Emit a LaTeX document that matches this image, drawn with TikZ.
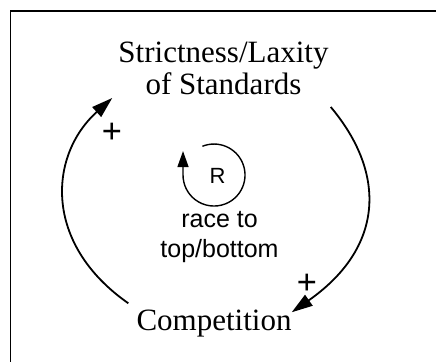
\documentclass[tikz,border=0pt]{standalone}
\usepackage{fontspec}
\setmainfont{Liberation Serif}
\newfontfamily\helv{Liberation Sans}
\usetikzlibrary{arrows.meta, positioning}

\begin{document}
\begin{tikzpicture}[x=1pt, y=1pt,
            magnitud/.style={inner sep=0pt, align=center, font=\fontsize{31}{32}\selectfont},
            signo/.style={inner sep=0pt, font=\bfseries\fontsize{36}{36}\selectfont},
            rotulo/.style={inner sep=0pt, align=center, font=\helv\fontsize{25}{30}\selectfont},
            enlace/.style={-{Triangle[length=21pt,width=13pt]}, line width=1.8pt},
            bucle/.style={-{Triangle[length=16pt,width=11pt]}, line width=1.4pt}]

            \useasboundingbox (0,0) rectangle (436,362);
            \draw[line width=1.8pt] (436,351) -- (10.5,351) -- (10.5,0);

            \node[magnitud, anchor=south] (std) at (223.5,267) {Strictness/Laxity\\of Standards};
            \node[magnitud, anchor=base] (comp) at (214,32) {Competition};
            \node[signo] (mas1) at (112,229) {+};
            \node[signo] (mas2) at (307,78) {+};
            \node[inner sep=0pt, font=\helv\fontsize{22}{22}\selectfont] (r) at (217.5,186) {R};
            \node[rotulo] (lazo) at (219.5,125) {race to\\top/bottom};

            \draw[enlace] ([xshift=2pt,yshift=-12pt]std.south east) to[out=-50, in=35, out distance=88pt, in distance=112pt] ([yshift=-3pt]comp.north east);
            \draw[enlace] ([xshift=-8pt,yshift=6pt]comp.north west) to[out=145, in=-138, out distance=105pt, in distance=85pt] ([xshift=-6pt,yshift=-3pt]std.south west);
            \draw[bucle] ([shift={(-15.1,29.7)}]r.center) arc[start angle=112, end angle=-180, radius=31] -- ++(0,24);
        \end{tikzpicture}
\end{document}
